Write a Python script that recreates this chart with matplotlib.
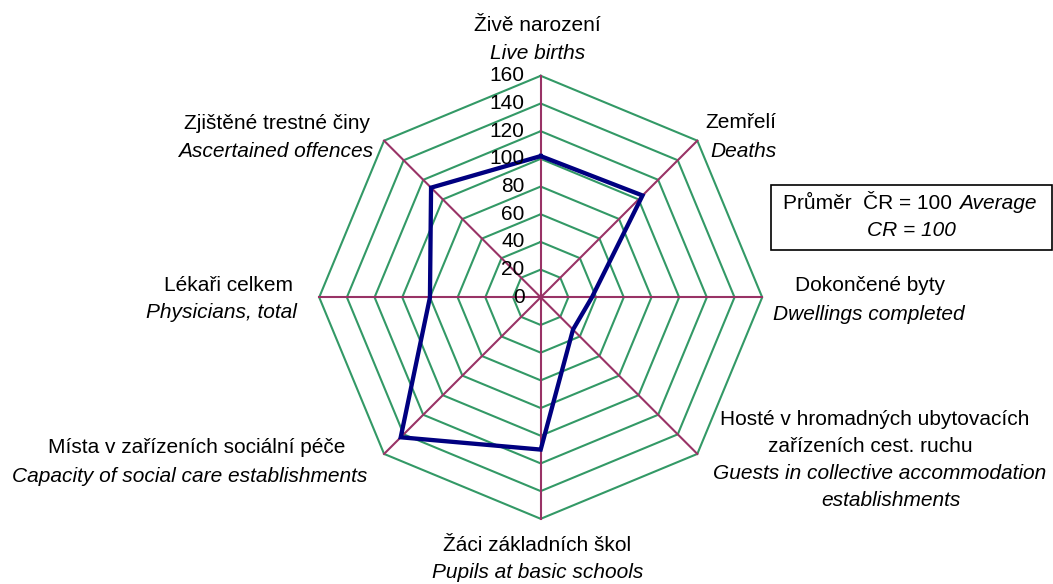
import numpy as np
import matplotlib.pyplot as plt
from matplotlib.transforms import Bbox

plt.rcParams['font.family'] = ['Liberation Sans', 'DejaVu Sans']

# data
labels_cz = ["Živě narození", "Zemřelí", "Dokončené byty",
             "Hosté v hromadných ubytovacích\nzařízeních cest. ruchu",
             "Žáci základních škol", "Místa v zařízeních sociální péče",
             "Lékaři celkem", "Zjištěné trestné činy"]
labels_en = ["Live births", "Deaths", "Dwellings completed",
             "Guests in collective accommodation\nestablishments",
             "Pupils at basic schools", "Capacity of social care establishments",
             "Physicians, total", "Ascertained offences"]
values = [102, 104, 37, 33, 110, 143, 80, 112]
rings = [0, 20, 40, 60, 80, 100, 120, 140, 160]

W, H = 1053, 584
fig = plt.figure(figsize=(W / 100, H / 100), dpi=100)

# centre (540.7, 297.3) px, radius of 160 ~ 221.5 px
lim = 170
half = 221.5 * lim / 160
cx, cy = 540.7, 297.3
ax = fig.add_axes([(cx - half) / W, (H - cy - half) / H, 2 * half / W, 2 * half / H])
ax.set_xlim(-lim, lim)
ax.set_ylim(-lim, lim)
ax.axis('off')

n = len(values)
ang = np.arange(n) * 2 * np.pi / n
ang_c = np.append(ang, ang[0])

green = '#339966'
plum = '#993366'

for r in rings[1:]:
    ax.plot(r * np.sin(ang_c), r * np.cos(ang_c), color=green, lw=1.5, zorder=1)
for a in ang:
    ax.plot([0, rings[-1] * np.sin(a)], [0, rings[-1] * np.cos(a)], color=plum, lw=1.5, zorder=2)

v = np.append(values, values[0])
ax.plot(v * np.sin(ang_c), v * np.cos(ang_c), color='#000080', lw=3.1, zorder=3,
        solid_joinstyle='miter')

for r in rings:
    ax.annotate(str(r), xy=(0, r), xytext=(-16, 0), textcoords='offset pixels',
                ha='right', va='center', fontsize=15, zorder=4)


def ptext(x, y, s, **kw):
    return fig.text(x / W, 1 - y / H, s, va='baseline', fontsize=15, **kw)


# category labels: (centre x, baseline y) for each line
pos_cz = [(537.5, 31), (741, 128.3), (870, 290.7), None,
          (537, 550.7), (196.3, 452.7), (229, 290.7), (276.7, 129.3)]
pos_en = [(537.5, 59.3), (743, 157.3), (869, 320), None,
          (538, 578.3), (189.7, 482), (221, 318.3), (275.5, 157.3)]
for i in range(n):
    if pos_cz[i] is None:
        continue
    ptext(*pos_cz[i], labels_cz[i], ha='center')
    t = ptext(*pos_en[i], labels_en[i], ha='center', style='italic')
    if i == 4:
        t.set_clip_box(Bbox.from_extents(0, 0, 646, H))
        t.set_clip_on(True)

cz_lines = labels_cz[3].split('\n')
en_lines = labels_en[3].split('\n')
ptext(874.7, 425, cz_lines[0], ha='center')
ptext(870.8, 451.7, cz_lines[1], ha='center')
ptext(880, 479.3, en_lines[0], ha='center', style='italic')
ptext(891, 506, en_lines[1], ha='center', style='italic')

# legend-like box
box = plt.Rectangle((770.7 / W, 1 - 250 / H), 281 / W, 65 / H, transform=fig.transFigure,
                    fill=False, ec='black', lw=1.2)
fig.add_artist(box)
ptext(952, 209.3, "Průměr  ČR = 100", ha='right')
ptext(959, 209.3, "Average", ha='left', style='italic')
ptext(911, 236, "CR = 100", ha='center', style='italic')

fig.savefig('out.png', dpi=100)
